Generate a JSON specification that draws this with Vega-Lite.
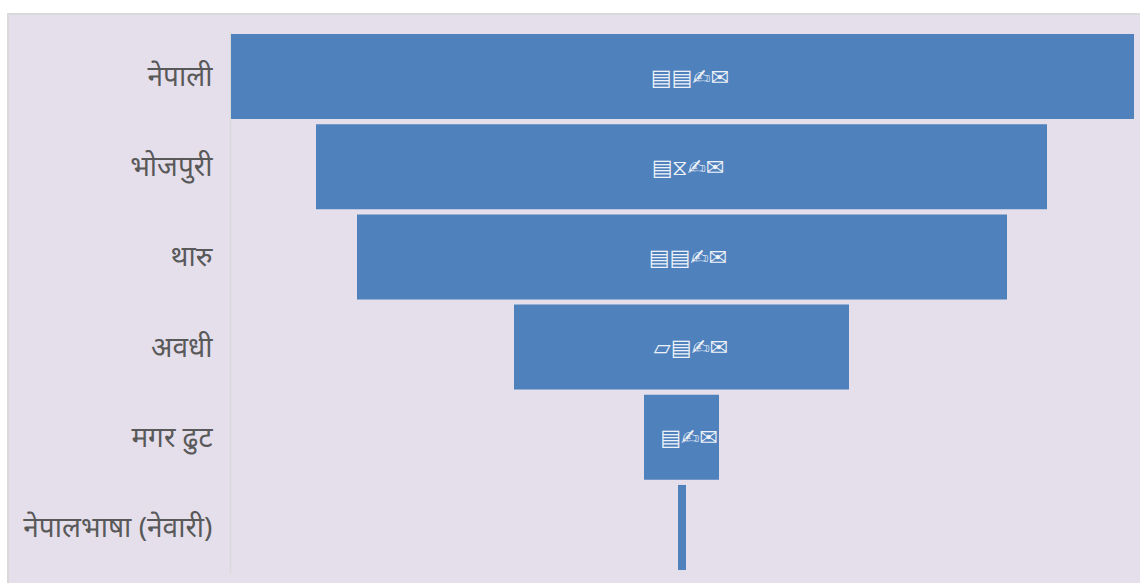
{"$schema":"https://vega.github.io/schema/vega-lite/v6.json","width":1133,"height":570,"autosize":"none","padding":{"left":8,"top":14,"right":0,"bottom":0},"background":"white","config":{"view":{"fill":"#e5dfec","stroke":"#d9d9d9","strokeWidth":2}},"data":{"values":[{"language":"नेपाली","start":0,"end":903,"middle":459,"label":"▤▤✍✉"},{"language":"भोजपुरी","start":85,"end":816,"middle":457,"label":"▤⧖✍✉"},{"language":"थारु","start":126,"end":776,"middle":457,"label":"▤▤✍✉"},{"language":"अवधी","start":283,"end":618,"middle":460,"label":"▱▤✍✉"},{"language":"मगर ढुट","start":413,"end":488,"middle":458,"label":"▤✍✉"},{"language":"नेपालभाषा (नेवारी)","start":447,"end":455,"middle":451,"label":""}]},"encoding":{"y":{"field":"language","type":"nominal","sort":null,"title":null,"scale":{"range":[17.5,558.5],"paddingInner":0.057,"paddingOuter":0.028},"axis":{"offset":-222,"domainColor":"#d9d9d9","domainWidth":1.5,"ticks":false,"labelFont":"Noto Sans","labelFontSize":28,"labelColor":"#595959","labelPadding":18,"labelLimit":0,"labelOffset":1.5,"grid":false}}},"layer":[{"mark":{"type":"bar","color":"#4f81bd"},"encoding":{"x":{"field":"start","type":"quantitative","title":null,"axis":null,"scale":{"domain":[0,903],"range":[223,1126],"nice":false}},"x2":{"field":"end"}}},{"mark":{"type":"text","color":"white","font":"DejaVu Sans","fontSize":22,"dy":1,"opacity":0.9},"encoding":{"x":{"field":"middle","type":"quantitative"},"text":{"field":"label"}}}]}
